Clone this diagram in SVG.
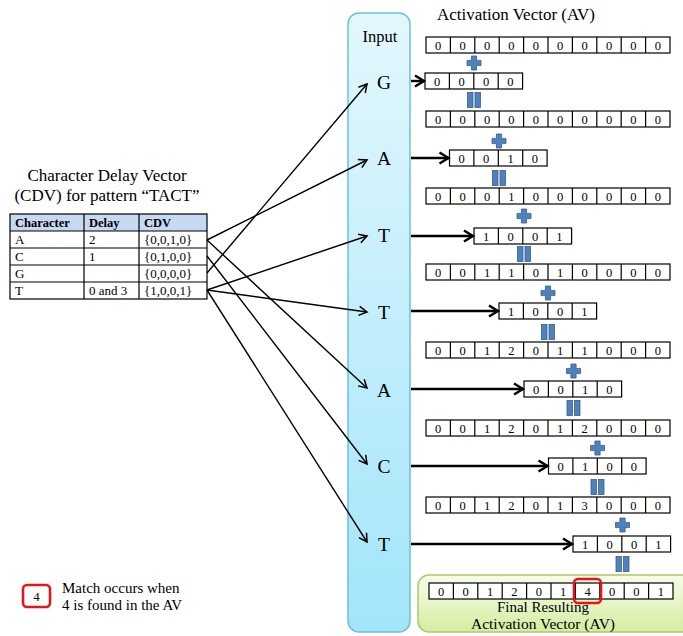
<svg xmlns="http://www.w3.org/2000/svg" width="683" height="636" viewBox="0 0 683 636">
<style>
text{font-family:"Liberation Serif","Times New Roman",serif;fill:#000}
.d{font-size:12.5px;text-anchor:middle}
.c{fill:#fff;stroke:#000;stroke-width:1.2}
.cl{fill:none;stroke:#000;stroke-width:1.2}
.ttl{font-size:17px}
.lt{font-size:19.5px;text-anchor:middle}
.th{font-size:12.5px;font-weight:bold}
.tb{font-size:13px}
.ln{fill:none;stroke:#000;stroke-width:1.4;marker-end:url(#ah)}
.hl{fill:none;stroke:#000;stroke-width:2.4;marker-end:url(#ahb)}
.pl{fill:#4f81bd;stroke:#385d8a;stroke-width:0.8}
.red{fill:none;stroke:#e8141b;stroke-width:2.6}
</style>
<defs>
<linearGradient id="gIn" x1="0" y1="0" x2="0" y2="1"><stop offset="0" stop-color="#e3f7fd"/><stop offset="1" stop-color="#a2e5fa"/></linearGradient>
<linearGradient id="gGr" x1="0" y1="0" x2="0" y2="1"><stop offset="0" stop-color="#f7fcea"/><stop offset="1" stop-color="#d5eda0"/></linearGradient>
<marker id="ah" markerUnits="userSpaceOnUse" markerWidth="12" markerHeight="12" refX="10" refY="6" orient="auto"><path d="M2,1.5 L10,6 L2,10.5" fill="none" stroke="#000" stroke-width="1.5"/></marker>
<marker id="ahb" markerUnits="userSpaceOnUse" markerWidth="14" markerHeight="14" refX="11" refY="7" orient="auto"><path d="M2,1.5 L11,7 L2,12.5" fill="none" stroke="#000" stroke-width="2.4"/></marker>
<g id="r10"><rect class="c" width="244" height="16"/><path class="cl" d="M24.4,0v16M48.8,0v16M73.2,0v16M97.6,0v16M122,0v16M146.4,0v16M170.8,0v16M195.2,0v16M219.6,0v16"/></g>
<g id="r4"><rect class="c" width="97.6" height="16"/><path class="cl" d="M24.4,0v16M48.8,0v16M73.2,0v16"/></g>
<path id="plus" class="pl" d="M-2.6,-7h5.2v4.4h4.4v5.2h-4.4v4.4h-5.2v-4.4h-4.4v-5.2h4.4z"/>
<g id="eq" class="pl"><rect x="-6.5" y="-7.5" width="5.5" height="15"/><rect x="1" y="-7.5" width="5.5" height="15"/></g>
</defs>
<rect width="683" height="636" fill="#fff"/>

<!-- CDV table -->
<g id="cdv">
<text class="ttl" x="107" y="181" text-anchor="middle">Character Delay Vector</text>
<text class="ttl" x="107" y="201" text-anchor="middle">(CDV) for pattern “TACT”</text>
<rect x="10" y="214" width="197" height="17" fill="#c6d9f1"/>
<rect x="10" y="214" width="197" height="85" fill="none" stroke="#000" stroke-width="1.2"/>
<path class="cl" d="M10,231H207M10,248H207M10,265H207M10,282H207M84,214V299M139,214V299"/>
<text class="th" x="15" y="227">Character</text>
<text class="th" x="89" y="227">Delay</text>
<text class="th" x="144" y="227">CDV</text>
<text class="tb" x="15" y="244">A</text><text class="tb" x="89" y="244">2</text><text class="tb" x="144" y="244">{0,0,1,0}</text>
<text class="tb" x="15" y="261">C</text><text class="tb" x="89" y="261">1</text><text class="tb" x="144" y="261">{0,1,0,0}</text>
<text class="tb" x="15" y="278">G</text><text class="tb" x="144" y="278">{0,0,0,0}</text>
<text class="tb" x="15" y="295">T</text><text class="tb" x="89" y="295">0 and 3</text><text class="tb" x="144" y="295">{1,0,0,1}</text>
</g>

<!-- Input column -->
<g id="input">
<rect x="348" y="13" width="62" height="619" rx="11" fill="url(#gIn)" stroke="#6cc1d8" stroke-width="1.5"/>
<text x="380" y="42" font-size="16.5" text-anchor="middle">Input</text>
<text class="lt" x="384" y="88.5">G</text>
<text class="lt" x="384" y="164.5">A</text>
<text class="lt" x="384" y="241.5">T</text>
<text class="lt" x="384" y="318.5">T</text>
<text class="lt" x="384" y="396.5">A</text>
<text class="lt" x="384" y="472.5">C</text>
<text class="lt" x="384" y="550.5">T</text>
</g>

<!-- final box -->
<g id="final">
<rect x="418" y="575" width="285" height="57" rx="11" fill="url(#gGr)" stroke="#a9c96a" stroke-width="1.5"/>
<use href="#r10" x="429" y="583"/>
<g class="d">
<text x="441.2" y="596">0</text><text x="465.6" y="596">0</text><text x="490" y="596">1</text><text x="514.4" y="596">2</text><text x="538.8" y="596">0</text><text x="563.2" y="596">1</text><text x="587.6" y="596">4</text><text x="612" y="596">0</text><text x="636.4" y="596">0</text><text x="660.8" y="596">1</text>
</g>
<rect class="red" x="574" y="579" width="27" height="24" rx="4"/>
<text x="543" y="612" font-size="15" text-anchor="middle">Final Resulting</text>
<text x="543" y="629" font-size="15.5" text-anchor="middle">Activation Vector (AV)</text>
</g>

<!-- Activation vectors -->
<g id="av">
<text class="ttl" x="437" y="20">Activation Vector (AV)</text>
<use href="#r10" x="426" y="37"/>
<use href="#r10" x="426" y="111"/>
<use href="#r10" x="426" y="188"/>
<use href="#r10" x="426" y="264"/>
<use href="#r10" x="426" y="342"/>
<use href="#r10" x="426" y="420"/>
<use href="#r10" x="426" y="497"/>
<use href="#r4" x="425" y="73"/>
<use href="#r4" x="449.5" y="150"/>
<use href="#r4" x="474" y="228"/>
<use href="#r4" x="499" y="303"/>
<use href="#r4" x="524" y="381"/>
<use href="#r4" x="548.5" y="458"/>
<use href="#r4" x="573" y="536"/>
<g class="d">
<text x="438.2" y="50">0</text><text x="462.6" y="50">0</text><text x="487" y="50">0</text><text x="511.4" y="50">0</text><text x="535.8" y="50">0</text><text x="560.2" y="50">0</text><text x="584.6" y="50">0</text><text x="609" y="50">0</text><text x="633.4" y="50">0</text><text x="657.8" y="50">0</text>
<text x="438.2" y="124">0</text><text x="462.6" y="124">0</text><text x="487" y="124">0</text><text x="511.4" y="124">0</text><text x="535.8" y="124">0</text><text x="560.2" y="124">0</text><text x="584.6" y="124">0</text><text x="609" y="124">0</text><text x="633.4" y="124">0</text><text x="657.8" y="124">0</text>
<text x="438.2" y="201">0</text><text x="462.6" y="201">0</text><text x="487" y="201">0</text><text x="511.4" y="201">1</text><text x="535.8" y="201">0</text><text x="560.2" y="201">0</text><text x="584.6" y="201">0</text><text x="609" y="201">0</text><text x="633.4" y="201">0</text><text x="657.8" y="201">0</text>
<text x="438.2" y="277">0</text><text x="462.6" y="277">0</text><text x="487" y="277">1</text><text x="511.4" y="277">1</text><text x="535.8" y="277">0</text><text x="560.2" y="277">1</text><text x="584.6" y="277">0</text><text x="609" y="277">0</text><text x="633.4" y="277">0</text><text x="657.8" y="277">0</text>
<text x="438.2" y="355">0</text><text x="462.6" y="355">0</text><text x="487" y="355">1</text><text x="511.4" y="355">2</text><text x="535.8" y="355">0</text><text x="560.2" y="355">1</text><text x="584.6" y="355">1</text><text x="609" y="355">0</text><text x="633.4" y="355">0</text><text x="657.8" y="355">0</text>
<text x="438.2" y="433">0</text><text x="462.6" y="433">0</text><text x="487" y="433">1</text><text x="511.4" y="433">2</text><text x="535.8" y="433">0</text><text x="560.2" y="433">1</text><text x="584.6" y="433">2</text><text x="609" y="433">0</text><text x="633.4" y="433">0</text><text x="657.8" y="433">0</text>
<text x="438.2" y="510">0</text><text x="462.6" y="510">0</text><text x="487" y="510">1</text><text x="511.4" y="510">2</text><text x="535.8" y="510">0</text><text x="560.2" y="510">1</text><text x="584.6" y="510">3</text><text x="609" y="510">0</text><text x="633.4" y="510">0</text><text x="657.8" y="510">0</text>
<text x="437.2" y="86">0</text><text x="461.6" y="86">0</text><text x="486" y="86">0</text><text x="510.4" y="86">0</text>
<text x="461.7" y="163">0</text><text x="486.1" y="163">0</text><text x="510.5" y="163">1</text><text x="534.9" y="163">0</text>
<text x="486.2" y="241">1</text><text x="510.6" y="241">0</text><text x="535" y="241">0</text><text x="559.4" y="241">1</text>
<text x="511.2" y="316">1</text><text x="535.6" y="316">0</text><text x="560" y="316">0</text><text x="584.4" y="316">1</text>
<text x="536.2" y="394">0</text><text x="560.6" y="394">0</text><text x="585" y="394">1</text><text x="609.4" y="394">0</text>
<text x="560.7" y="471">0</text><text x="585.1" y="471">1</text><text x="609.5" y="471">0</text><text x="633.9" y="471">0</text>
<text x="585.2" y="549">1</text><text x="609.6" y="549">0</text><text x="634" y="549">0</text><text x="658.4" y="549">1</text>
</g>
<use href="#plus" x="474" y="63"/>
<use href="#plus" x="499" y="141"/>
<use href="#plus" x="524" y="216"/>
<use href="#plus" x="548" y="293"/>
<use href="#plus" x="573.5" y="371"/>
<use href="#plus" x="597.5" y="448"/>
<use href="#plus" x="622.5" y="525"/>
<use href="#eq" x="474" y="100"/>
<use href="#eq" x="499" y="178"/>
<use href="#eq" x="524" y="254"/>
<use href="#eq" x="548" y="332"/>
<use href="#eq" x="573.5" y="408"/>
<use href="#eq" x="597.5" y="487"/>
<use href="#eq" x="622.5" y="564"/>
</g>

<!-- connectors -->
<g id="connectors">
<path class="ln" d="M207,273L367,84"/>
<path class="ln" d="M207,240L367,160"/>
<path class="ln" d="M207,290L367,236"/>
<path class="ln" d="M207,290L367,312"/>
<path class="ln" d="M207,240L367,388"/>
<path class="ln" d="M207,256L367,464"/>
<path class="ln" d="M207,290L367,542"/>
<path class="hl" d="M411,81H424"/>
<path class="hl" d="M411,158H448.5"/>
<path class="hl" d="M411,236H473"/>
<path class="hl" d="M411,311H498"/>
<path class="hl" d="M411,389H523"/>
<path class="hl" d="M411,466H547.5"/>
<path class="hl" d="M411,544H572"/>
</g>

<!-- legend -->
<g id="legend">
<rect class="red" x="23" y="585" width="27" height="22" rx="4"/>
<text x="36.5" y="600.5" font-size="13" text-anchor="middle">4</text>
<text x="62" y="593" font-size="15">Match occurs when</text>
<text x="62" y="610" font-size="15">4 is found in the AV</text>
</g>
</svg>
